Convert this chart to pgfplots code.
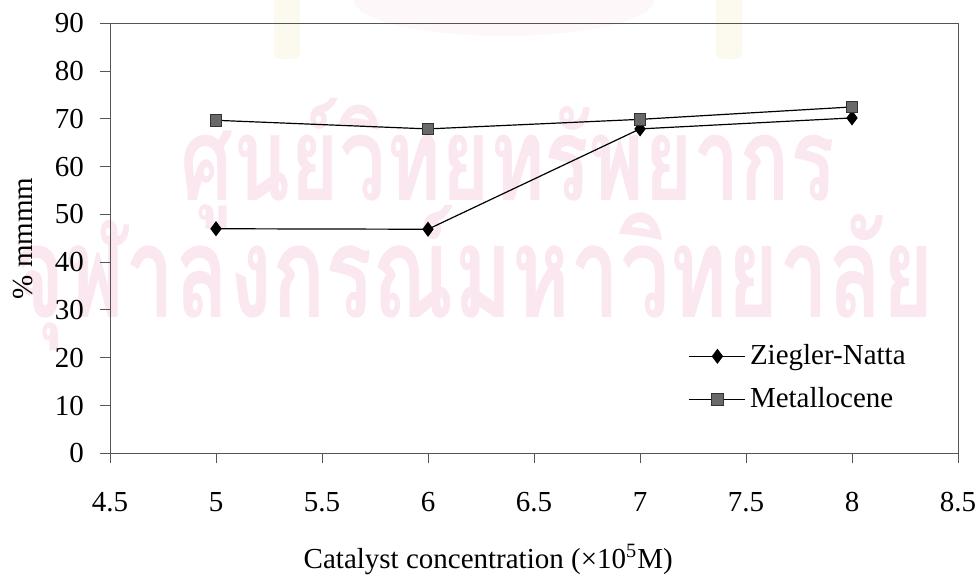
\documentclass[border=0pt]{standalone}
\usepackage{pgfplots}
\pgfplotsset{compat=1.18}
\usepackage{fontspec}
\setmainfont{Liberation Serif}
\newfontfamily\thaifont[Script=Thai]{Loma}
\definecolor{wmpink}{RGB}{250,231,239}
\definecolor{wmcream}{RGB}{252,249,238}
\definecolor{framegray}{RGB}{85,85,85}
\definecolor{metgray}{RGB}{105,105,105}

\begin{document}
\begin{tikzpicture}
\useasboundingbox (0,0) rectangle (489.5pt,287.5pt);
% library stamp in the background
\fill[wmpink, opacity=0.35] (252pt,287.5pt) ellipse (75pt and 18pt);
\fill[wmcream, rounded corners=3pt] (137pt,258pt) rectangle (150pt,290pt);
\fill[wmcream, rounded corners=3pt] (358pt,258pt) rectangle (371pt,290pt);
\node[anchor=base, text=wmpink, inner sep=0pt] at (254pt,187.5pt)
  {\scalebox{1}[1.4]{\resizebox{327pt}{!}{\thaifont\bfseries ศูนย์วิทยทรัพยากร}}};
\node[anchor=base, text=wmpink, inner sep=0pt] at (237pt,129pt)
  {\scalebox{1}[1.45]{\resizebox{460pt}{!}{\thaifont\bfseries จุฬาลงกรณ์มหาวิทยาลัย}}};

\begin{axis}[
  at={(55pt,60.85pt)}, anchor=south west,
  scale only axis, width=424pt, height=215pt,
  xmin=4.5, xmax=8.5, ymin=0, ymax=90,
  xtick={4.5,5,5.5,6,6.5,7,7.5,8,8.5},
  ytick={0,10,20,30,40,50,60,70,80,90},
  axis line style={draw=framegray, line width=0.5pt},
  tick style={draw=framegray, line width=0.5pt},
  tick align=outside, major tick length=5pt,
  xtick pos=bottom, ytick pos=left,
  /pgf/number format/assume math mode=true,
  ticklabel style={font=\fontsize{14.5}{17}\selectfont},
  xticklabel style={yshift=-11pt},
  yticklabel style={xshift=-4.5pt},
  xlabel={Catalyst concentration (×10\textsuperscript{5}M)},
  xlabel style={at={(axis description cs:0.446,0)}, anchor=base, yshift=-57.4pt,
    font=\fontsize{14.5}{17}\selectfont},
  ylabel={\% mmmm},
  ylabel style={at={(axis description cs:-0.0908,0.5)}, anchor=base,
    font=\fontsize{14.5}{17}\selectfont},
  legend style={draw=none, fill=none, at={(0.675,0.272)}, anchor=north west,
    font=\fontsize{14.5}{17}\selectfont, row sep=6pt,
    /tikz/every even column/.append style={column sep=3pt}},
  legend cell align=left,
  legend image code/.code={\draw[mark repeat=2, mark phase=2, #1]
    plot coordinates {(0pt,0pt) (14pt,0pt) (28pt,0pt)};},
]
\addplot[black, line width=0.6pt, mark=diamond*, mark size=3.3pt,
  mark options={fill=black, draw=black}]
  coordinates {(5,47.0) (6,46.9) (7,67.9) (8,70.2)};
\addlegendentry{Ziegler-Natta}
\addplot[black, line width=0.6pt, mark=square*, mark size=2.8pt,
  mark options={fill=metgray, draw=black!80, line width=0.4pt}]
  coordinates {(5,69.7) (6,67.9) (7,69.9) (8,72.5)};
\addlegendentry{Metallocene}
\end{axis}
\end{tikzpicture}
\end{document}
